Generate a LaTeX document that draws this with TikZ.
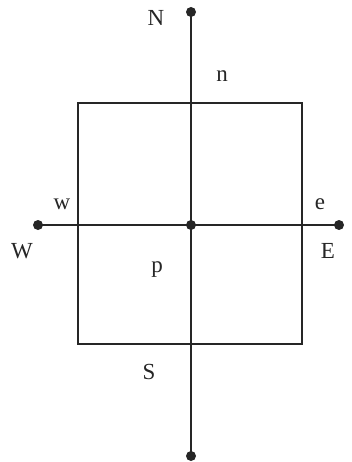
\documentclass[tikz,border=0pt]{standalone}
\usepackage{fontspec}
\setmainfont{Liberation Serif}
\begin{document}
\begin{tikzpicture}[x=1pt,y=-1pt,
  ln/.style={line width=1.8pt, draw=black!85},
  pt/.style={circle, fill=black!85, inner sep=0pt, minimum size=10pt},
  lbl/.style={font=\fontsize{23}{26}\selectfont, text=black!85, inner sep=0pt}]
\useasboundingbox (0,0) rectangle (352,462);
\node[pt] (N) at (191,12) {};
\node[pt] (S) at (191,456) {};
\node[pt] (W) at (38,225) {};
\node[pt] (E) at (339,225) {};
\node[pt] (P) at (191,225) {};
\coordinate (tl) at (78,103);
\coordinate (br) at (302,344);
\draw[ln] (tl) rectangle (br);
\draw[ln] (N.center) -- (S.center);
\draw[ln] (W.center) -- (E.center);
\node[lbl] (lN) at (156,18) {N};
\node[lbl] (ln) at (222,76) {n};
\node[lbl] (lw) at (62,204) {w};
\node[lbl] (le) at (320,204) {e};
\node[lbl] (lW) at (22,251) {W};
\node[lbl] (lE) at (328,251) {E};
\node[lbl] (lp) at (157,270) {p};
\node[lbl] (lS) at (149,372) {S};
\end{tikzpicture}
\end{document}
